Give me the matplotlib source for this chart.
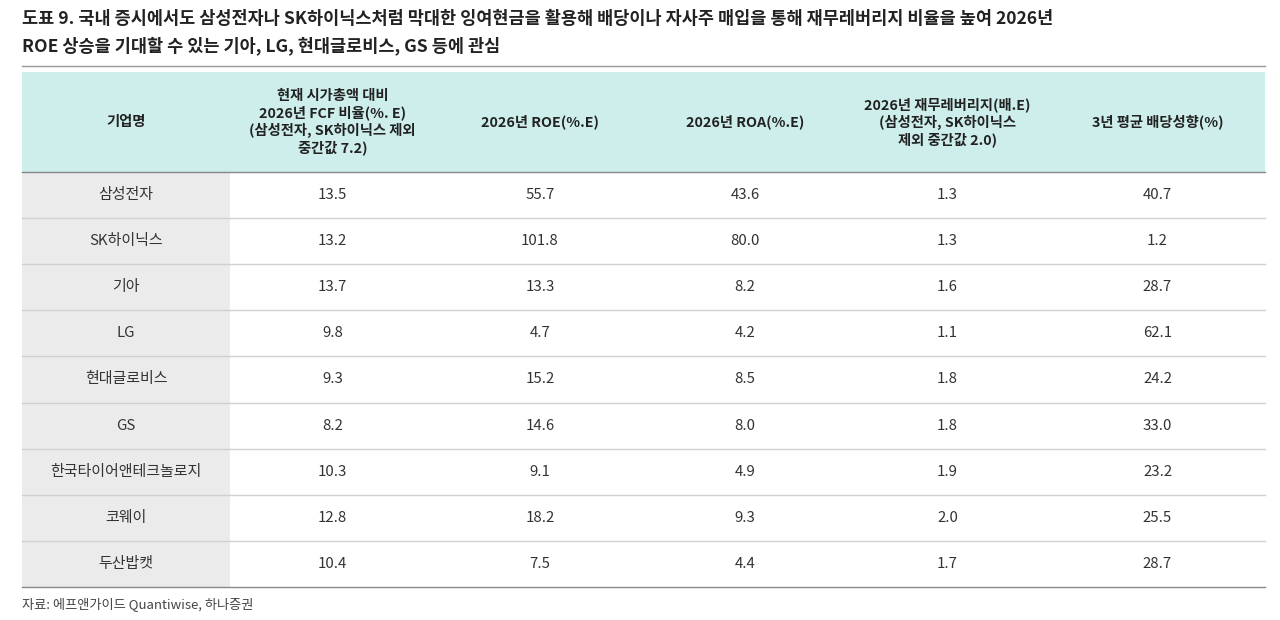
import matplotlib.pyplot as plt
from matplotlib.patches import Rectangle

plt.rcParams['font.family'] = ['Noto Sans CJK KR', 'DejaVu Sans']

title = ["도표 9. 국내 증시에서도 삼성전자나 SK하이닉스처럼 막대한 잉여현금을 활용해 배당이나 자사주 매입을 통해 재무레버리지 비율을 높여 2026년",
         "ROE 상승을 기대할 수 있는 기아, LG, 현대글로비스, GS 등에 관심"]
headers = ["기업명", "현재 시가총액 대비\n2026년 FCF 비율(%. E)\n(삼성전자, SK하이닉스 제외\n중간값 7.2)",
           "2026년 ROE(%.E)", "2026년 ROA(%.E)",
           "2026년 재무레버리지(배.E)\n(삼성전자, SK하이닉스\n제외 중간값 2.0)", "3년 평균 배당성향(%)"]
companies = ["삼성전자", "SK하이닉스", "기아", "LG", "현대글로비스", "GS", "한국타이어앤테크놀로지", "코웨이", "두산밥캣"]
fcf = [13.5, 13.2, 13.7, 9.8, 9.3, 8.2, 10.3, 12.8, 10.4]
roe = [55.7, 101.8, 13.3, 4.7, 15.2, 14.6, 9.1, 18.2, 7.5]
roa = [43.6, 80.0, 8.2, 4.2, 8.5, 8.0, 4.9, 9.3, 4.4]
lev = [1.3, 1.3, 1.6, 1.1, 1.8, 1.8, 1.9, 2.0, 1.7]
payout = [40.7, 1.2, 28.7, 62.1, 24.2, 33.0, 23.2, 25.5, 28.7]
source = "자료: 에프앤가이드 Quantiwise, 하나증권"

fig = plt.figure(figsize=(12.8, 6.2), dpi=100)
ax = fig.add_axes([0, 0, 1, 1])
ax.set_xlim(0, 1280)
ax.set_ylim(620, 0)
ax.axis('off')

for i, t in enumerate(title):
    ax.text(22, 19 + i * 27, t, fontsize=12.6, fontweight='bold', va='center', color='#222222')
ax.plot([22, 1265], [66, 66], color='#999999', lw=1)

bounds = [22, 230, 435, 645, 845, 1050, 1265]
top, hbot, rh = 72, 172, 46.1
ax.add_patch(Rectangle((22, top), 1243, hbot - top, color='#cdeeea', lw=0))
for j, h in enumerate(headers):
    ax.text((bounds[j] + bounds[j + 1]) / 2, (top + hbot) / 2, h, ha='center', va='center',
            fontsize=10.3, fontweight='bold', linespacing=1.2, color='#222222')
ax.plot([22, 1265], [hbot, hbot], color='#888888', lw=1)

cols = [fcf, roe, roa, lev, payout]
for i, name in enumerate(companies):
    y0 = hbot + i * rh
    yc = y0 + rh / 2
    ax.add_patch(Rectangle((22, y0), bounds[1] - 22, rh, color='#ebebeb', lw=0))
    ax.text((bounds[0] + bounds[1]) / 2, yc, name, ha='center', va='center', fontsize=10.8, color='#333333')
    for j, vals in enumerate(cols):
        ax.text((bounds[j + 1] + bounds[j + 2]) / 2, yc, f"{vals[i]:.1f}", ha='center', va='center',
                fontsize=10.8, color='#333333')
    if i < len(companies) - 1:
        ax.plot([22, 1265], [y0 + rh, y0 + rh], color='#d0d0d0', lw=1)
ax.plot([22, 1265], [hbot + 9 * rh, hbot + 9 * rh], color='#888888', lw=1)
ax.text(22, 604, source, fontsize=9.5, va='center', color='#444444')

fig.savefig('out.png', dpi=100)
